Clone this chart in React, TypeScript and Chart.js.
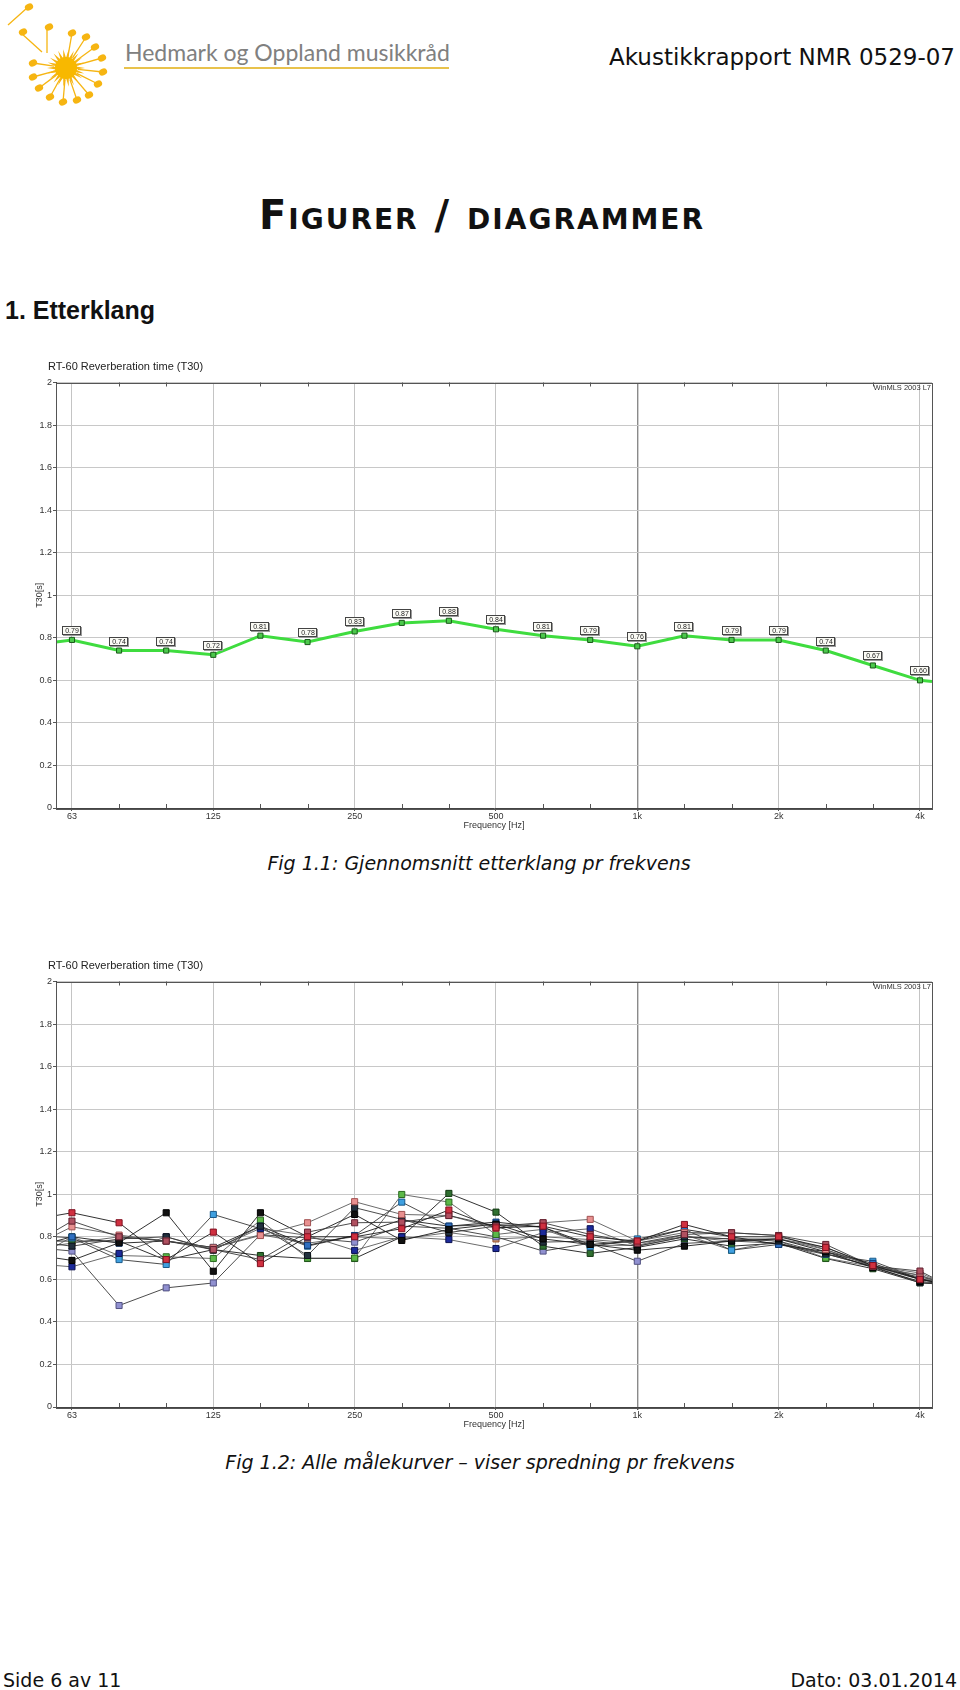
import React, { useEffect, useRef } from "react";
import { Chart, registerables } from "chart.js";
Chart.register(...registerables);

// ---------- data ----------
const BANDS = ["63","80","100","125","160","200","250","315","400","500","630","800","1k","1.25k","1.6k","2k","2.5k","3.15k","4k"];
const OCTAVE_LABELS = ["63", "125", "250", "500", "1k", "2k", "4k"];
const Y_TICKS = [0, 0.2, 0.4, 0.6, 0.8, 1, 1.2, 1.4, 1.6, 1.8, 2];
const X_MIN = -0.113;
const X_MAX = 6.085;

const AVG_T30 = [0.79,0.74,0.74,0.72,0.81,0.78,0.83,0.87,0.88,0.84,0.81,0.79,0.76,0.81,0.79,0.79,0.74,0.67,0.60];
const AVG_EDGE_LEFT = 0.78;
const AVG_EDGE_RIGHT = 0.595;

const M_RED      = [0.913,0.866,0.693,0.822,0.674,0.800,0.800,0.838,0.926,0.842,0.850,0.800,0.780,0.858,0.800,0.800,0.750,0.665,0.600];
const M_MAROON   = [0.874,0.800,0.780,0.740,0.693,0.822,0.866,0.869,0.900,0.850,0.866,0.811,0.770,0.811,0.819,0.806,0.764,0.662,0.639];
const M_PINK     = [0.847,0.808,0.780,0.748,0.806,0.866,0.965,0.905,0.900,0.840,0.866,0.882,0.780,0.820,0.819,0.806,0.740,0.662,0.630];
const M_BLACK    = [0.689,0.772,0.913,0.638,0.913,0.800,0.905,0.783,0.835,0.860,0.790,0.764,0.737,0.756,0.780,0.790,0.730,0.655,0.590];
const M_SLATE    = [0.756,0.790,0.800,0.737,0.850,0.712,0.937,0.882,0.820,0.850,0.775,0.780,0.756,0.800,0.790,0.780,0.720,0.660,0.584];
const M_NAVY     = [0.659,0.722,0.800,0.740,0.840,0.806,0.736,0.800,0.787,0.745,0.820,0.838,0.756,0.800,0.780,0.790,0.750,0.660,0.618];
const M_BLUE     = [0.800,0.770,0.780,0.750,0.850,0.760,0.806,0.880,0.850,0.869,0.845,0.764,0.780,0.835,0.800,0.764,0.730,0.675,0.600];
const M_LIGHTBLUE= [0.795,0.693,0.670,0.905,0.838,0.756,0.806,0.963,0.850,0.858,0.845,0.753,0.790,0.835,0.737,0.764,0.717,0.685,0.602];
const M_GREEN    = [0.800,0.712,0.706,0.698,0.878,0.700,0.700,0.999,0.963,0.811,0.835,0.760,0.760,0.810,0.737,0.780,0.700,0.660,0.600];
const M_DARKGREEN= [0.780,0.780,0.690,0.740,0.712,0.698,0.698,0.800,1.004,0.916,0.756,0.722,0.750,0.790,0.756,0.770,0.698,0.650,0.584];
const M_LAVENDER = [0.733,0.477,0.560,0.583,0.810,0.795,0.775,0.850,0.840,0.800,0.733,0.770,0.685,0.769,0.780,0.770,0.720,0.660,0.610];
const M_SALMON   = [0.770,0.800,0.780,0.750,0.810,0.770,0.800,0.790,0.820,0.790,0.800,0.787,0.770,0.800,0.790,0.790,0.740,0.660,0.620];

const MEAS_SERIES = [M_RED, M_MAROON, M_PINK, M_BLACK, M_SLATE, M_NAVY, M_BLUE, M_LIGHTBLUE, M_GREEN, M_DARKGREEN, M_LAVENDER, M_SALMON];
const MEAS_EDGE_LEFT  = [0.90, 0.83, 0.81, 0.70, 0.765, 0.665, 0.78, 0.80, 0.757, 0.78, 0.74, 0.76];
const MEAS_EDGE_RIGHT = [0.59, 0.61, 0.605, 0.585, 0.58, 0.60, 0.59, 0.595, 0.59, 0.58, 0.60, 0.60];
const MEAS_FILL   = ["#d03040","#b05060","#e89090","#111111","#22303e","#1c2a9a","#2f6fc0","#3fa0e0","#5cb848","#2f6f30","#9090d0","#e0a070"];
const MEAS_BORDER = ["#801020","#602030","#a05050","#000000","#0c1218","#0a1050","#103870","#1a5a8a","#2a6a20","#143a14","#505080","#905030"];

// ---------- chart helpers ----------
const CF = "'Liberation Sans', Arial, sans-serif";

function buildPoints(values: number[], left: number, right: number) {
  return [
    { x: X_MIN, y: left },
    ...values.map((v, i) => ({ x: i / 3, y: v })),
    { x: X_MAX, y: right },
  ];
}

function edgeRadius(r: number) {
  return (ctx: any) => {
    const n = ctx.dataset.data.length;
    return ctx.dataIndex === 0 || ctx.dataIndex === n - 1 ? 0 : r;
  };
}

function makeFramePlugin(title: string) {
  return {
    id: "frame",
    beforeDatasetsDraw(chart: any) {
      const { ctx, chartArea, scales } = chart;
      ctx.save();
      ctx.strokeStyle = "#555";
      ctx.lineWidth = 1;
      for (let i = 1; i < BANDS.length; i++) {
        if (i % 3 === 0) continue;
        const x = Math.round(scales.x.getPixelForValue(i / 3)) + 0.5;
        ctx.beginPath();
        ctx.moveTo(x, chartArea.bottom);
        ctx.lineTo(x, chartArea.bottom - 4);
        ctx.moveTo(x, chartArea.top);
        ctx.lineTo(x, chartArea.top + 4);
        ctx.stroke();
      }
      ctx.restore();
    },
    afterDraw(chart: any) {
      const { ctx, chartArea } = chart;
      ctx.save();
      ctx.strokeStyle = "#555";
      ctx.lineWidth = 1;
      ctx.strokeRect(
        Math.round(chartArea.left) + 0.5,
        Math.round(chartArea.top) + 0.5,
        Math.round(chartArea.right - chartArea.left),
        Math.round(chartArea.bottom - chartArea.top)
      );
      ctx.fillStyle = "#222";
      ctx.font = `11px ${CF}`;
      ctx.textBaseline = "middle";
      ctx.textAlign = "left";
      ctx.fillText(title, 48, 12);
      ctx.font = `7.5px ${CF}`;
      ctx.textAlign = "right";
      ctx.fillStyle = "#333";
      ctx.fillText("WinMLS 2003 L7", chartArea.right - 1, chartArea.top + 5.5);
      ctx.restore();
    },
  };
}

const valueLabelPlugin = {
  id: "valueLabels",
  afterDatasetsDraw(chart: any) {
    const { ctx } = chart;
    const meta = chart.getDatasetMeta(0);
    ctx.save();
    ctx.font = `7px ${CF}`;
    ctx.textAlign = "center";
    ctx.textBaseline = "middle";
    AVG_T30.forEach((v, i) => {
      const el = meta.data[i + 1];
      const txt = v.toFixed(2);
      const w = Math.ceil(ctx.measureText(txt).width) + 5;
      const h = 9;
      const cx = Math.round(el.x);
      const cy = Math.round(el.y - 9);
      const x0 = cx - Math.round(w / 2);
      const y0 = cy - Math.round(h / 2);
      ctx.fillStyle = "#9a9a9a";
      ctx.fillRect(x0 + 1, y0 + 1, w, h);
      ctx.fillStyle = "#fbfbf5";
      ctx.fillRect(x0, y0, w, h);
      ctx.strokeStyle = "#444";
      ctx.lineWidth = 1;
      ctx.strokeRect(x0 + 0.5, y0 + 0.5, w - 1, h - 1);
      ctx.fillStyle = "#222";
      ctx.fillText(txt, cx, cy + 0.5);
    });
    ctx.restore();
  },
};

function baseOptions(): any {
  return {
    responsive: false,
    animation: false,
    events: [],
    layout: { padding: { top: 27.5, right: 28, bottom: 0, left: 0 } },
    plugins: { legend: { display: false }, tooltip: { enabled: false }, title: { display: false } },
    scales: {
      x: {
        type: "linear",
        min: X_MIN,
        max: X_MAX,
        afterBuildTicks: (s: any) => {
          s.ticks = OCTAVE_LABELS.map((_, i) => ({ value: i }));
        },
        afterFit: (s: any) => {
          s.height = 27;
        },
        ticks: {
          callback: (v: any) => OCTAVE_LABELS[Math.round(v)] ?? "",
          font: { family: CF, size: 9 },
          color: "#333",
          padding: 0,
          maxRotation: 0,
          autoSkip: false,
        },
        grid: {
          color: (c: any) => (c.tick && c.tick.value === 4 ? "#8a8a8a" : "#c4c4c4"),
          lineWidth: (c: any) => (c.tick && c.tick.value === 4 ? 1.4 : 1),
          tickLength: 3,
          tickColor: "#555",
        },
        border: { color: "#444" },
        title: {
          display: true,
          text: "Frequency [Hz]",
          font: { family: CF, size: 9 },
          color: "#333",
          padding: { top: 0, bottom: 3.6 },
        },
      },
      y: {
        min: 0,
        max: 2,
        afterBuildTicks: (s: any) => {
          s.ticks = Y_TICKS.map((v) => ({ value: v }));
        },
        afterFit: (s: any) => {
          s.width = 56;
        },
        ticks: {
          callback: (v: any) => String(+Number(v).toFixed(1)),
          font: { family: CF, size: 9 },
          color: "#333",
          padding: 1,
        },
        grid: { color: "#c8c8c8", tickLength: 3, tickColor: "#555" },
        border: { color: "#444" },
        title: {
          display: true,
          text: "T30[s]",
          font: { family: CF, size: 9 },
          color: "#333",
          padding: { top: 34.6, bottom: 0 },
        },
      },
    },
  };
}

function RtChart({ top, kind }: { top: number; kind: "avg" | "all" }) {
  const ref = useRef<HTMLCanvasElement>(null);
  useEffect(() => {
    const title = "RT-60 Reverberation time (T30)";
    let datasets: any[];
    const plugins: any[] = [makeFramePlugin(title)];
    if (kind === "avg") {
      datasets = [
        {
          data: buildPoints(AVG_T30, AVG_EDGE_LEFT, AVG_EDGE_RIGHT),
          borderColor: "#3fdc3f",
          borderWidth: 3,
          pointStyle: "rect",
          pointRadius: edgeRadius(3.6),
          pointBackgroundColor: "#4cc84c",
          pointBorderColor: "#1a5a1a",
          pointBorderWidth: 1,
          tension: 0,
        },
      ];
      plugins.push(valueLabelPlugin);
    } else {
      datasets = MEAS_SERIES.map((s, k) => ({
        data: buildPoints(s, MEAS_EDGE_LEFT[k], MEAS_EDGE_RIGHT[k]),
        borderColor: k % 3 === 0 ? "#1a1a1a" : k % 3 === 1 ? "#383838" : "#5a5a5a",
        borderWidth: 0.9,
        pointStyle: "rect",
        pointRadius: edgeRadius(4.3),
        pointBackgroundColor: MEAS_FILL[k],
        pointBorderColor: MEAS_BORDER[k],
        pointBorderWidth: 1,
        tension: 0,
      }));
    }
    const chart = new Chart(ref.current!, {
      type: "line",
      data: { datasets },
      options: baseOptions(),
      plugins,
    } as any);
    return () => chart.destroy();
  }, [kind]);
  return (
    <canvas
      ref={ref}
      width={960}
      height={480}
      style={{ position: "absolute", left: 0, top, width: 960, height: 480 }}
    />
  );
}

// ---------- page ----------
function Txt({ x, y, size, align = "left", style, children }: any) {
  const tr = align === "center" ? "translateX(-50%)" : align === "right" ? "translateX(-100%)" : "none";
  return (
    <div
      style={{
        position: "absolute",
        left: x,
        top: y - size * 0.5,
        fontSize: size,
        lineHeight: 1,
        whiteSpace: "nowrap",
        transform: tr,
        ...style,
      }}
    >
      {children}
    </div>
  );
}

const HEADS: [number, number, number, number][] = [
  [29, 7, 8, 25],
  [23, 32, 42, 52],
  [49, 27, 47, 53],
];
const RADIAL_HEADS: [number, number][] = [
  [72, 33], [86, 37], [95, 47], [102, 58], [103, 72], [98, 84], [89, 95],
  [77, 100], [63, 102], [50, 97], [39, 88], [33, 77], [33, 63],
];

function Logo() {
  const cx = 66, cy = 68;
  const star: string[] = [];
  for (let k = 0; k < 44; k++) {
    const a = (k * Math.PI) / 22;
    const r = k % 2 === 0 ? 19 : 10;
    star.push(`${(cx + r * Math.cos(a)).toFixed(1)},${(cy + r * Math.sin(a)).toFixed(1)}`);
  }
  const col = "#f6b512";
  return (
    <svg width={115} height={108} style={{ position: "absolute", left: 0, top: 0 }}>
      <polygon points={star.join(" ")} fill={col} />
      <circle cx={cx} cy={cy} r={11} fill="#f8b800" />
      {HEADS.map(([hx, hy, sx, sy], i) => (
        <g key={"h" + i}>
          <line x1={sx} y1={sy} x2={hx - 2} y2={hy + 1} stroke={col} strokeWidth={1.3} />
          <ellipse cx={hx} cy={hy} rx={4.3} ry={3.3} fill={col} transform={`rotate(-25 ${hx} ${hy})`} />
        </g>
      ))}
      {RADIAL_HEADS.map(([hx, hy], i) => {
        const dx = hx - cx, dy = hy - cy;
        const d = Math.hypot(dx, dy);
        const sx = cx + (dx / d) * 12, sy = cy + (dy / d) * 12;
        return (
          <g key={"r" + i}>
            <line x1={sx} y1={sy} x2={hx} y2={hy} stroke={col} strokeWidth={1.3} />
            <ellipse cx={hx} cy={hy} rx={4.3} ry={3.3} fill={col} transform={`rotate(-25 ${hx} ${hy})`} />
          </g>
        );
      })}
    </svg>
  );
}

export default function App() {
  const sans = "'DejaVu Sans', Verdana, sans-serif";
  return (
    <div
      style={{
        position: "absolute",
        left: 0,
        top: 0,
        width: 960,
        height: 1690,
        background: "#fff",
        overflow: "hidden",
        color: "#111",
      }}
    >
      <Logo />
      <Txt x={125} y={52} size={23} style={{ fontFamily: "Lato, 'Open Sans', sans-serif", color: "#808080" }}>
        Hedmark og Oppland musikkråd
      </Txt>
      <div style={{ position: "absolute", left: 124, top: 67, width: 325, height: 2, background: "#e8c24c" }} />
      <Txt x={955} y={57} size={23} align="right" style={{ fontFamily: sans }}>
        Akustikkrapport NMR 0529-07
      </Txt>
      <Txt
        x={482}
        y={215}
        size={40}
        align="center"
        style={{ fontFamily: sans, fontWeight: 700, fontVariant: "small-caps", letterSpacing: 2 }}
      >
        Figurer / diagrammer
      </Txt>
      <Txt x={5} y={310} size={25} style={{ fontFamily: "'Liberation Sans', Arial, sans-serif", fontWeight: 700 }}>
        1. Etterklang
      </Txt>

      <RtChart top={355} kind="avg" />
      <Txt x={479} y={863} size={19} align="center" style={{ fontFamily: sans, fontStyle: "italic" }}>
        Fig 1.1: Gjennomsnitt etterklang pr frekvens
      </Txt>

      <RtChart top={954} kind="all" />
      <Txt x={480} y={1462} size={19} align="center" style={{ fontFamily: sans, fontStyle: "italic" }}>
        Fig 1.2: Alle målekurver – viser spredning pr frekvens
      </Txt>

      <Txt x={3} y={1680} size={19} style={{ fontFamily: sans }}>
        Side 6 av 11
      </Txt>
      <Txt x={957} y={1680} size={19} align="right" style={{ fontFamily: sans }}>
        Dato: 03.01.2014
      </Txt>
    </div>
  );
}
